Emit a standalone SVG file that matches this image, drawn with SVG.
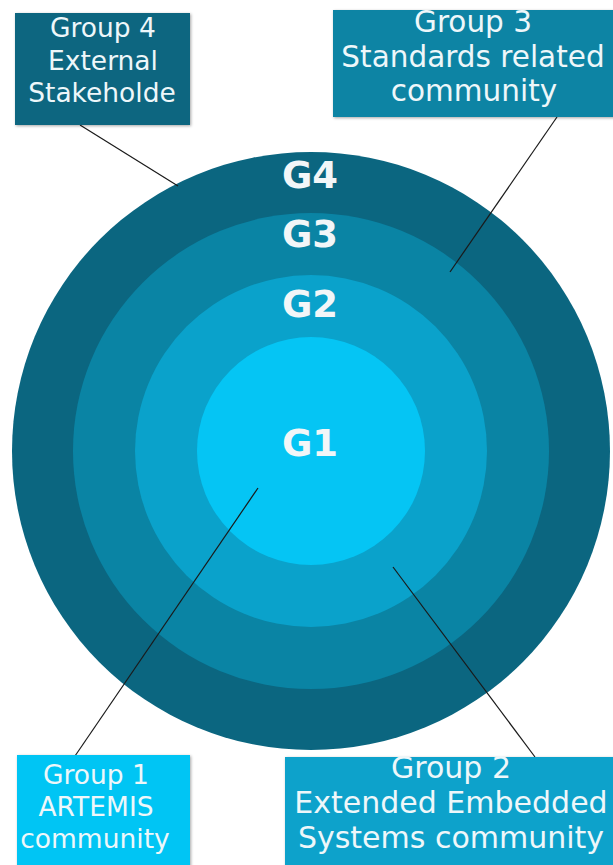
<svg xmlns="http://www.w3.org/2000/svg" width="613" height="865" viewBox="0 0 613 865">
  <style>
    .lbl { font-family: "DejaVu Sans", sans-serif; fill: #eef7fa; text-anchor: middle; }
    .ring { font-family: "DejaVu Sans", sans-serif; font-weight: bold; font-size: 37px; fill: #f2f6f8; text-anchor: middle; }
    .link { stroke: #1a1a1a; stroke-width: 1.2; fill: none; }
  </style>
  <defs>
    <filter id="shadow" x="-10%" y="-10%" width="120%" height="120%">
      <feDropShadow dx="1" dy="1" stdDeviation="1.5" flood-color="#000" flood-opacity="0.35"/>
    </filter>
  </defs>
  <rect width="613" height="865" fill="#ffffff"/>

  <!-- concentric rings -->
  <g id="rings">
    <circle id="g4" cx="311" cy="451" r="299" fill="#0b6680"/>
    <circle id="g3" cx="311" cy="451" r="238" fill="#0a84a4"/>
    <circle id="g2" cx="311" cy="451" r="176" fill="#0aa2cb"/>
    <circle id="g1" cx="311" cy="451" r="114" fill="#05c5f4"/>
    <text class="ring" x="310" y="188">G4</text>
    <text class="ring" x="310" y="247">G3</text>
    <text class="ring" x="310" y="317">G2</text>
    <text class="ring" x="310" y="456">G1</text>
  </g>

  <!-- leader lines -->
  <g id="connectors">
    <line class="link" x1="80" y1="125" x2="178" y2="186"/>
    <line class="link" x1="557" y1="117" x2="450" y2="272"/>
    <line class="link" x1="75" y1="756" x2="258" y2="488"/>
    <line class="link" x1="535" y1="757" x2="393" y2="567"/>
  </g>

  <g id="group4">
    <rect x="15" y="13" width="175" height="112" fill="#0b6680" filter="url(#shadow)"/>
    <text class="lbl" font-size="26.5" x="103" y="37">Group 4</text>
    <text class="lbl" font-size="26.5" x="103" y="70">External</text>
    <text class="lbl" font-size="26.5" x="102" y="102">Stakeholde</text>
  </g>

  <g id="group3">
    <rect x="333" y="10" width="285" height="107" fill="#0a84a4" filter="url(#shadow)"/>
    <text class="lbl" font-size="29.5" x="473" y="32">Group 3</text>
    <text class="lbl" font-size="29.5" x="473" y="67">Standards related</text>
    <text class="lbl" font-size="29.5" x="474" y="101">community</text>
  </g>

  <g id="group1">
    <rect x="17" y="755" width="173" height="115" fill="#05c5f4" filter="url(#shadow)"/>
    <text class="lbl" font-size="26.5" x="96" y="784">Group 1</text>
    <text class="lbl" font-size="26.5" x="96" y="816">ARTEMIS</text>
    <text class="lbl" font-size="26.5" x="95" y="848">community</text>
  </g>

  <g id="group2">
    <rect x="285" y="757" width="333" height="113" fill="#0aa2cb" filter="url(#shadow)"/>
    <text class="lbl" font-size="30" x="451" y="778">Group 2</text>
    <text class="lbl" font-size="30" x="451" y="813">Extended Embedded</text>
    <text class="lbl" font-size="30" x="451" y="848">Systems community</text>
  </g>
</svg>
